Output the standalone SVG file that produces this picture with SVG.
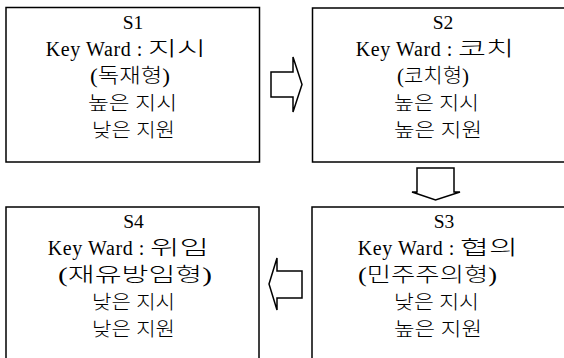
<svg xmlns="http://www.w3.org/2000/svg" width="564" height="358" viewBox="0 0 564 358">
<style>
.box{fill:#fff;stroke:#000;stroke-width:1.5}
.arr{fill:#fff;stroke:#000;stroke-width:1.5;stroke-linejoin:miter}
text{font-family:"Liberation Serif","Noto Sans CJK KR",serif;font-size:19.5px;fill:#000;text-anchor:middle}
.k{font-weight:300}
.p{font-weight:300;font-size:20px}
.e{text-anchor:end;font-size:20px;letter-spacing:0.6px}
.s{text-anchor:start;font-size:20px;font-weight:300}
</style>
<rect width="564" height="358" fill="#fff"/>
<g id="connectors">
<polygon class="arr" points="271,72 293,72 293,57 302,84.5 293,112 293,97 271,97"/>
<polygon class="arr" points="417,168 454,168 454,192 460,192 435.5,200 412,192 417,192"/>
<polygon class="arr" points="302,271 277,271 277,258 269,284 277,310 277,298 302,298"/>
</g>
<g id="S1">
<rect class="box" x="6" y="7.5" width="253.5" height="154.5"/>
<text x="133" y="29">S1</text>
<text class="e" x="143" y="55.5">Key Ward :</text>
<text class="s" x="148" y="55.5" textLength="58" lengthAdjust="spacingAndGlyphs">지시</text>
<text class="p" x="130" y="82.5" textLength="80" lengthAdjust="spacingAndGlyphs">(독재형)</text>
<text class="k" x="132.5" y="109.5" textLength="89" lengthAdjust="spacingAndGlyphs">높은 지시</text>
<text class="k" x="133.5" y="136.5" textLength="83" lengthAdjust="spacingAndGlyphs">낮은 지원</text>
</g>
<g id="S2">
<rect class="box" x="312.5" y="8" width="262" height="154"/>
<text x="443" y="29">S2</text>
<text class="e" x="453" y="55.5">Key Ward :</text>
<text class="s" x="458" y="55.5" textLength="56" lengthAdjust="spacingAndGlyphs">코치</text>
<text class="p" x="433" y="82.5" textLength="72" lengthAdjust="spacingAndGlyphs">(코치형)</text>
<text class="k" x="436.5" y="109.5" textLength="85" lengthAdjust="spacingAndGlyphs">높은 지시</text>
<text class="k" x="438" y="136.5" textLength="88" lengthAdjust="spacingAndGlyphs">높은 지원</text>
</g>
<g id="S3">
<rect class="box" x="312" y="207" width="262" height="160"/>
<text x="444" y="228">S3</text>
<text class="e" x="455" y="255">Key Ward :</text>
<text class="s" x="460" y="255" textLength="58" lengthAdjust="spacingAndGlyphs">협의</text>
<text class="p" x="427.5" y="282" textLength="139" lengthAdjust="spacingAndGlyphs">(민주주의형)</text>
<text class="k" x="436.5" y="309" textLength="85" lengthAdjust="spacingAndGlyphs">낮은 지시</text>
<text class="k" x="438" y="336" textLength="88" lengthAdjust="spacingAndGlyphs">높은 지원</text>
</g>
<g id="S4">
<rect class="box" x="6" y="207" width="253" height="160"/>
<text x="133.5" y="228">S4</text>
<text class="e" x="145" y="255">Key Ward :</text>
<text class="s" x="150" y="255" textLength="59" lengthAdjust="spacingAndGlyphs">위임</text>
<text class="p" x="135" y="282" textLength="154" lengthAdjust="spacingAndGlyphs">(재유방임형)</text>
<text class="k" x="133.5" y="309" textLength="83" lengthAdjust="spacingAndGlyphs">낮은 지시</text>
<text class="k" x="133.5" y="336" textLength="83" lengthAdjust="spacingAndGlyphs">낮은 지원</text>
</g>
</svg>
